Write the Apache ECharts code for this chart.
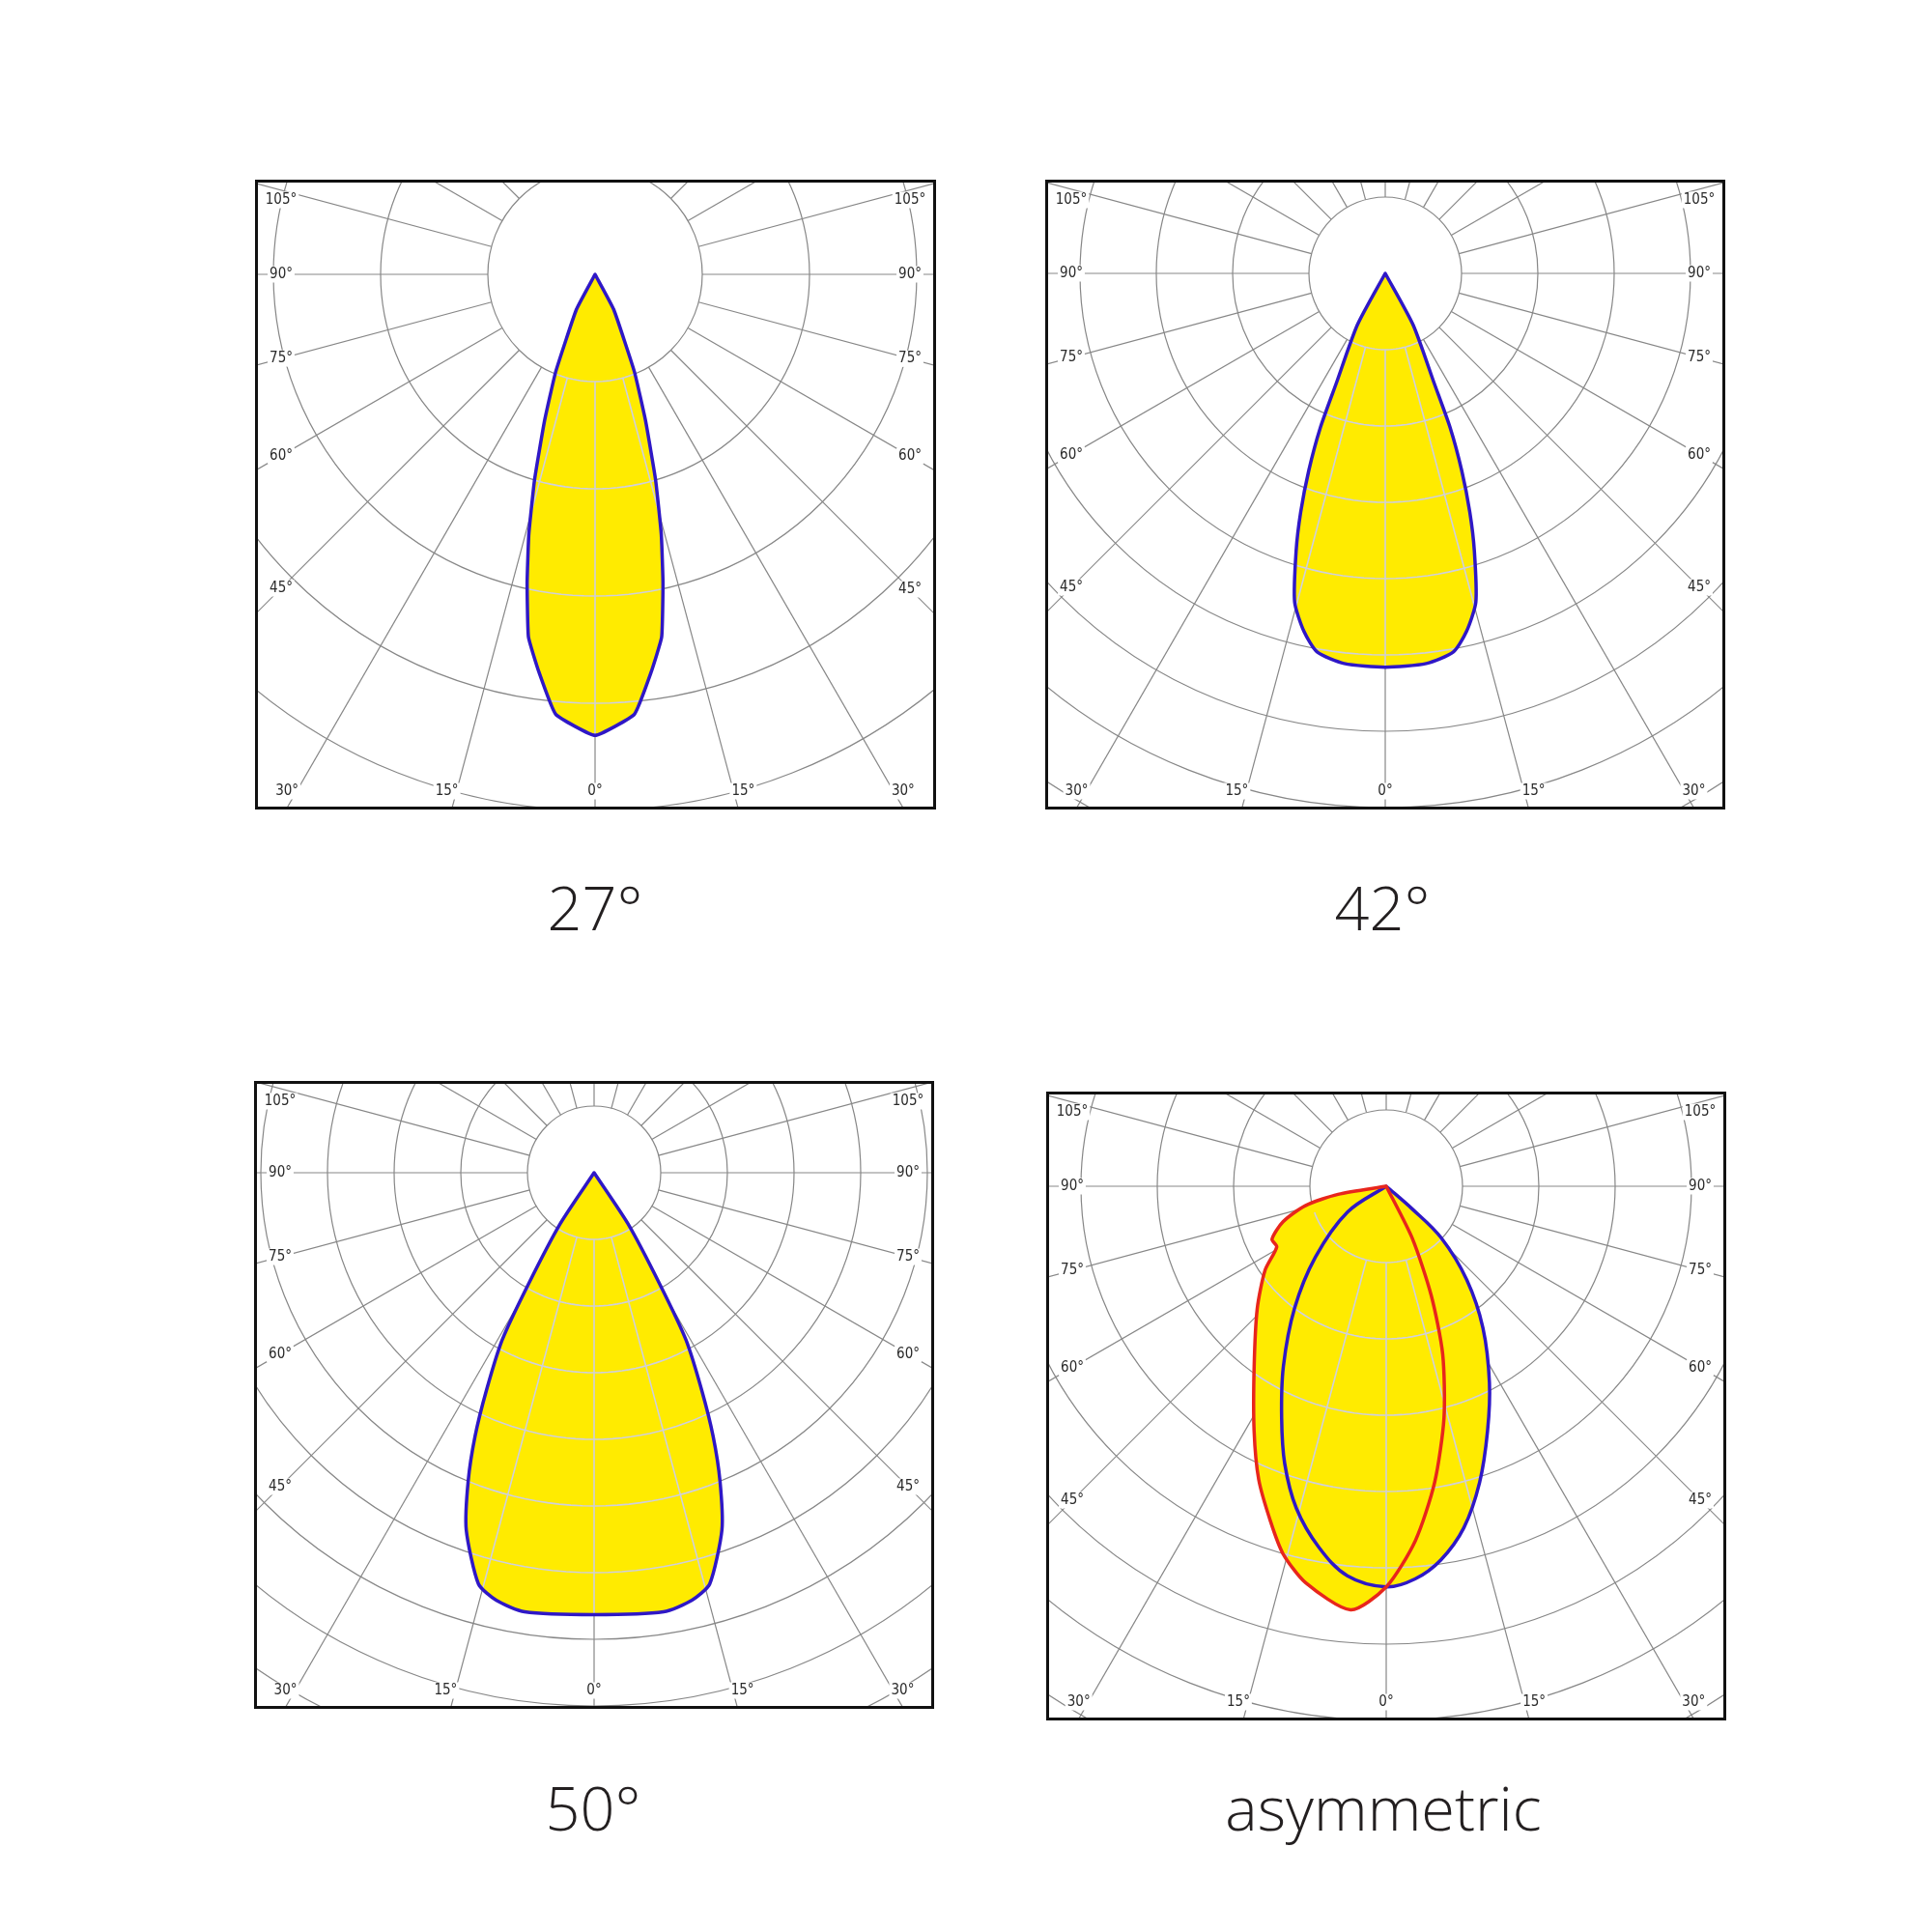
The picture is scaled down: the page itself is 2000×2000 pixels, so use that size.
<!DOCTYPE html>
<html><head><meta charset="utf-8">
<script src="https://cdn.jsdelivr.net/npm/echarts@6/dist/echarts.min.js"></script>
<style>
html,body{margin:0;padding:0;background:#fff;}
#base{position:absolute;left:0;top:0;width:2000px;height:2000px;}
.panel{position:absolute;}
</style></head><body>
<div id="base"></div>
<div id="p1" class="panel"></div>
<div id="p2" class="panel"></div>
<div id="p3" class="panel"></div>
<div id="p4" class="panel"></div>
<script>
// ---------- data ----------
const spokeAngles = [-180,-165,-150,-135,-120,-105,-90,-75,-60,-45,-30,-15,0,15,30,45,60,75,90,105,120,135,150,165];
const labelAngles = [-105,-90,-75,-60,-45,-30,-15,0,15,30,45,60,75,90,105];
const titles = ['27°','42°','50°','asymmetric'];

// beam 27°  (angle from nadir in degrees, intensity in grid-ring units)
const angles27 = [-90,-28,-22,-19,-16.4,-14.3,-12.4,-10.4,-8,-5.1,0,5.1,8,10.4,12.4,14.3,16.4,19,22,28,90];
const intensity27 = [0,0.37,0.98,1.45,2.0,2.5,2.95,3.44,3.75,4.12,4.30,4.12,3.75,3.44,2.95,2.5,2.0,1.45,0.98,0.37,0];

// beam 42°
const angles42 = [-90,-28.4,-24,-22.8,-21.2,-19.5,-17.8,-15.4,-12.8,-10.2,-6,0,6,10.2,12.8,15.4,17.8,19.5,21.2,22.8,24,28.4,90];
const intensity42 = [0,0.77,1.58,2.2,2.77,3.32,3.82,4.47,4.81,5.04,5.14,5.16,5.14,5.04,4.81,4.47,3.82,3.32,2.77,2.2,1.58,0.77,0];

// beam 50°
const angles50 = [-90,-33.6,-30.5,-28.8,-26.3,-24.3,-22.2,-19.7,-15.7,-12.9,-9,0,9,12.9,15.7,19.7,22.2,24.3,26.3,28.8,30.5,33.6,90];
const intensity50 = [0,0.92,1.95,2.86,3.65,4.34,5.0,5.69,6.41,6.58,6.67,6.63,6.67,6.58,6.41,5.69,5.0,4.34,3.65,2.86,1.95,0.92,0];

// asymmetric: blue plane
const anglesBlue = [-90,-56.3,-45,-36.9,-29.7,-24.3,-20.1,-15.6,-10.6,-5.7,0,4.2,8.3,12.8,17.5,22.5,27.7,34.3,40.7,46.8,48.9,90];
const intensityBlue = [0,0.61,1.31,2.0,2.72,3.33,3.87,4.38,4.81,5.13,5.25,5.16,4.95,4.59,4.07,3.47,2.91,2.25,1.62,0.99,0.45,0];
// asymmetric: red plane
const anglesRed = [-90,-80.5,-76.5,-71,-65.1,-61,-55.3,-46.5,-36.2,-28.4,-23.5,-19.1,-15.7,-11.5,-4.8,0,4.7,9.3,14,18.6,22.4,26.6,90];
const intensityRed = [0,0.64,1.09,1.43,1.65,1.64,1.93,2.33,2.93,3.64,4.19,4.64,5.0,5.3,5.57,5.25,4.66,3.93,3.13,2.32,1.55,0.76,0];

// grid lines seen through the fill
const innerRings27 = [1,2,3,4];
const innerRings42 = [1,2,3,4,5];
const innerRings50 = [1,2,3,4,5,6];
const innerRingsAsym = [1,2,3,4,5];
const innerSpokes = [-15,0,15];

// ---------- styles / layout ----------
const GRID = '#878787', INNER = '#cfcfdc', YELLOW = '#ffeb00';
const BLUE = '#2f18c6', RED = '#e8261c';
const arcSteps = [];
for (let t = -70; t <= 70; t += 2) arcSteps.push(t);

const panels = [
  {id:'p1', x:264, y:186, w:705, h:652, cx:352, cy:98, step:111, rings:6, inner:innerRings27,
   curves:[{a:angles27, v:intensity27, c:BLUE, s:0.12}], tx:616, ty:945},
  {id:'p2', x:1082, y:186, w:704, h:652, cx:352, cy:97, step:79, rings:9, inner:innerRings42,
   curves:[{a:angles42, v:intensity42, c:BLUE, s:0.22}], tx:1431, ty:945},
  {id:'p3', x:263, y:1119, w:704, h:650, cx:352, cy:95, step:69, rings:10, inner:innerRings50,
   curves:[{a:angles50, v:intensity50, c:BLUE, s:0.22}], tx:614, ty:1877},
  {id:'p4', x:1083, y:1130, w:704, h:651, cx:352, cy:98, step:79, rings:9, inner:innerRingsAsym,
   curves:[{a:anglesBlue, v:intensityBlue, c:BLUE, s:0.35},{a:anglesRed, v:intensityRed, c:RED, s:0.25}], tx:1432, ty:1877}
];

// ---------- titles ----------
const base = echarts.init(document.getElementById('base'), null, {width:2000, height:2000});
base.setOption({
  animation:false,
  graphic: panels.map((p,i)=>({type:'text', x:p.tx, y:p.ty,
    style:{text:titles[i], fill:'#231f20', font:'300 63px "Open Sans", "Noto Sans", sans-serif',
      textAlign:'center', textVerticalAlign:'middle'}}))
});

function labelPos(p, ang){
  const rad = ang*Math.PI/180, dx = Math.sin(rad), dy = Math.cos(rad);
  const mx = 27, mb = 19, mt = 21;
  let x, y;
  if (Math.abs(ang) >= 45){
    x = dx < 0 ? mx : p.w - mx;
    const t = Math.abs((x - p.cx)/dx);
    y = p.cy + t*dy;
  } else {
    y = p.h - mb;
    const t = (y - p.cy)/dy;
    x = p.cx + t*dx + Math.sign(ang)*10;
  }
  x = Math.max(mx, Math.min(p.w - mx, x));
  y = Math.max(mt, Math.min(p.h - mb, y));
  return [x, y];
}

panels.forEach(p=>{
  const el = document.getElementById(p.id);
  el.style.left = p.x+'px'; el.style.top = p.y+'px';
  el.style.width = p.w+'px'; el.style.height = p.h+'px';
  const chart = echarts.init(el, null, {width:p.w, height:p.h});
  const series = [];
  // spokes (start at first ring)
  series.push({type:'custom', coordinateSystem:'polar', z:1, silent:true,
    data: spokeAngles.map(a=>[p.rings, a]),
    renderItem:(params, api)=>{
      const a = api.value(1);
      const s = api.coord([1, a]), e = api.coord([api.value(0), a]);
      return {type:'line', shape:{x1:s[0], y1:s[1], x2:e[0], y2:e[1]},
        style:{stroke:GRID, lineWidth:1.2}};
    }});
  // fills with see-through grid
  p.curves.forEach(cv=>{
    series.push({type:'custom', coordinateSystem:'polar', z:3, silent:true, data:[[0,0]],
      renderItem:(params, api)=>{
        const pts = cv.a.map((ang,i)=>api.coord([cv.v[i], ang]));
        const lines = [];
        p.inner.forEach(r=>{
          lines.push({type:'polyline', shape:{points: arcSteps.map(t=>api.coord([r, t]))},
            style:{stroke:INNER, lineWidth:1.6, fill:null}});
        });
        innerSpokes.forEach(t=>{
          const s = api.coord([1, t]), e = api.coord([p.rings, t]);
          lines.push({type:'line', shape:{x1:s[0], y1:s[1], x2:e[0], y2:e[1]},
            style:{stroke:INNER, lineWidth:1.6}});
        });
        return {type:'group', children:[
          {type:'polygon', shape:{points:pts, smooth:cv.s}, style:{fill:YELLOW}},
          {type:'group', clipPath:{type:'polygon', shape:{points:pts, smooth:cv.s}}, children:lines}
        ]};
      }});
  });
  // outlines
  p.curves.forEach(cv=>{
    series.push({type:'custom', coordinateSystem:'polar', z:4, silent:true, data:[[0,0]],
      renderItem:(params, api)=>{
        const pts = cv.a.map((ang,i)=>api.coord([cv.v[i], ang]));
        return {type:'polygon', shape:{points:pts, smooth:cv.s},
          style:{fill:null, stroke:cv.c, lineWidth:3.5, lineJoin:'round'}};
      }});
  });
  const graphic = labelAngles.map(a=>{
    const pos = labelPos(p, a);
    return {type:'text', x:pos[0], y:pos[1], z:50,
      style:{text:Math.abs(a)+'°', fill:'#2a2a2a', font:'15px "DejaVu Sans Condensed", "DejaVu Sans", sans-serif',
        textAlign:'center', textVerticalAlign:'middle', backgroundColor:'#fff', padding:[1,2]}};
  });
  graphic.push({type:'rect', z:100, shape:{x:1.5, y:1.5, width:p.w-3, height:p.h-3},
    style:{fill:null, stroke:'#111', lineWidth:3}});
  chart.setOption({
    animation:false,
    polar:{center:[p.cx, p.cy], radius:p.step*p.rings},
    angleAxis:{type:'value', min:-180, max:180, startAngle:90, clockwise:false,
      axisLine:{show:false}, axisTick:{show:false}, axisLabel:{show:false}, splitLine:{show:false}},
    radiusAxis:{type:'value', min:0, max:p.rings, interval:1,
      axisLine:{show:false}, axisTick:{show:false}, axisLabel:{show:false},
      splitLine:{show:true, lineStyle:{color:GRID, width:1.2}}},
    series: series,
    graphic: graphic
  });
});
</script>
</body></html>
